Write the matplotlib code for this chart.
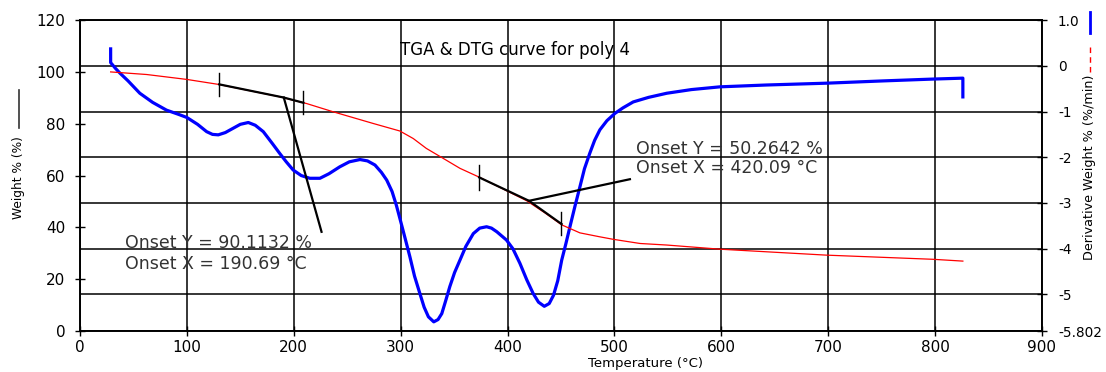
import matplotlib
matplotlib.use("Agg")
import matplotlib.pyplot as plt
from matplotlib.lines import Line2D

# DTG curve (right axis), derivative weight %/min
temp_dtg = [28.7, 28.7, 33, 37.4, 45, 56, 68, 81, 92, 100, 110, 118.5, 124, 129.4,
            136, 143, 150, 157.5, 164, 171.5, 180, 187, 193, 199.5, 207, 215, 224.5,
            233, 243, 252, 262, 269, 276, 282, 287, 292, 296, 300, 304.5, 308.7, 313,
            318, 322, 326, 331, 335, 338.5, 342, 346, 350.5, 355.5, 361, 368, 374,
            380.4, 385, 390, 399, 405, 411.6, 418, 424, 429, 434.4, 439, 443, 447,
            450.7, 454.5, 458.4, 463, 467.7, 472, 477, 481.5, 486.4, 493, 500.5, 508,
            517.6, 532, 549, 572, 598.7, 642, 698.5, 751.5, 798, 826, 826]
dtg = [0.37, 0.07, -0.05, -0.16, -0.33, -0.60, -0.80, -0.97, -1.06, -1.13, -1.28,
       -1.44, -1.50, -1.51, -1.46, -1.37, -1.28, -1.24, -1.30, -1.44, -1.70, -1.92,
       -2.10, -2.28, -2.40, -2.46, -2.46, -2.36, -2.21, -2.10, -2.05, -2.08, -2.17,
       -2.33, -2.50, -2.75, -3.05, -3.40, -3.80, -4.18, -4.60, -4.98, -5.28, -5.49,
       -5.60, -5.55, -5.42, -5.15, -4.83, -4.52, -4.25, -3.95, -3.67, -3.55, -3.52,
       -3.55, -3.63, -3.81, -4.00, -4.32, -4.68, -4.98, -5.17, -5.26, -5.20, -5.02,
       -4.70, -4.25, -3.90, -3.52, -3.08, -2.65, -2.25, -1.91, -1.63, -1.40, -1.20,
       -1.04, -0.92, -0.79, -0.69, -0.60, -0.52, -0.46, -0.42, -0.38, -0.33, -0.29,
       -0.27, -0.68]

# TGA curve (left axis), weight %
temp_tga = [28.7, 62.4, 100, 129.4, 156, 187, 212, 237, 274.4, 299.3, 311.8, 324,
            340, 355.5, 374, 395, 417.9, 435, 450.6, 467.7, 486, 499, 524, 549,
            598.7, 698.5, 798, 826]
weight = [100, 99.0, 97.1, 95.2, 93.0, 90.4, 87.8, 84.6, 80.1, 77.2, 74.3, 70.5,
          66.6, 62.8, 59.3, 55.0, 50.3, 45.6, 41.0, 37.9, 36.4, 35.4, 33.8, 33.2,
          31.6, 29.3, 27.7, 27.0]

# onset construction lines
onset1 = (190.69, 90.1132)
base1_t = [130.3, onset1[0], 209]
base1_w = [95.2, onset1[1], 88.1]
steep1_t = [onset1[0], 226]
steep1_w = [onset1[1], 38.3]
ticks1_t = [130.3, 209]
ticks1_w = [(90.6, 99.6), (83.7, 92.7)]

onset2 = (420.09, 50.2642)
base2_t = [373.5, onset2[0], 450.6]
base2_w = [59.3, onset2[1], 41.3]
steep2_t = [onset2[0], 514.5]
steep2_w = [onset2[1], 58.6]
ticks2_t = [373.5, 450]
ticks2_w = [(54.5, 63.9), (37.0, 46.0)]

x_ticks = list(range(0, 1000, 100))
left_ticks = list(range(0, 140, 20))
right_ticks = [1.0, 0, -1, -2, -3, -4, -5, -5.802]
right_labels = ['1.0', '0', '-1', '-2', '-3', '-4', '-5', '-5.802']

fig = plt.figure(figsize=(11.06, 3.72), dpi=100)
ax = fig.add_axes([0.0723, 0.110, 0.8698, 0.836])
ax2 = ax.twinx()

# grid + DTG on the lower axes, TGA on top
ax2.set_zorder(1)
ax.set_zorder(2)
ax.patch.set_visible(False)

ax2.plot(temp_dtg, dtg, color='#0000ff', lw=2.3, solid_joinstyle='round')
ax2.set_ylim(-5.802, 1.0)
ax2.set_yticks(right_ticks)
ax2.set_yticklabels(right_labels)
ax2.set_axisbelow(True)
ax2.xaxis.set_visible(True)
ax2.tick_params(axis='x', which='both', bottom=False, top=False,
                labelbottom=False, labeltop=False)
ax2.grid(True, color='black', lw=1.1)

ax.plot(temp_tga, weight, color='#ff0000', lw=0.9)
for ts, ws in [(base1_t, base1_w), (steep1_t, steep1_w),
               (base2_t, base2_w), (steep2_t, steep2_w)]:
    ax.plot(ts, ws, color='black', lw=1.6)
for t, (w0, w1) in zip(ticks1_t + ticks2_t, ticks1_w + ticks2_w):
    ax.plot([t, t], [w0, w1], color='black', lw=1.0)

fs_note = 12.5
ax.text(42, 34, 'Onset Y = %.4f %%' % onset1[1], fontsize=fs_note, va='center',
        color='#333333')
ax.text(42, 25.8, 'Onset X = %.2f °C' % onset1[0], fontsize=fs_note, va='center',
        color='#333333')
ax.text(520, 70.2, 'Onset Y = %.4f %%' % onset2[1], fontsize=fs_note, va='center',
        color='#333333')
ax.text(520, 62.9, 'Onset X = %.2f °C' % onset2[0], fontsize=fs_note, va='center',
        color='#333333')
ax.text(0.452, 0.904, 'TGA & DTG curve for poly 4', transform=ax.transAxes,
        ha='center', va='center', fontsize=12)

ax.set_xlim(0, 900)
ax.set_ylim(0, 120)
ax.set_xticks(x_ticks)
ax.set_yticks(left_ticks)
ax.set_xlabel('Temperature (°C)', fontsize=9.5)
ax.set_ylabel('Weight % (%)', fontsize=8.8)
ax2.set_ylabel('Derivative Weight % (%/min)', fontsize=9.2)
ax.xaxis.set_label_coords(0.5875, -0.082)
ax.yaxis.set_label_coords(-0.057, 0.494)
ax2.yaxis.set_label_coords(1.0426, 0.527)

for a in (ax, ax2):
    a.tick_params(direction='inout', length=7, width=1, labelsize=11, pad=3)
    for s in a.spines.values():
        s.set_linewidth(1.2)
ax.tick_params(axis='y', pad=7)
ax2.tick_params(axis='y', pad=8, labelsize=9.8)

# legend samples beside the axis labels
fig.add_artist(Line2D([0.0172, 0.0172], [0.656, 0.758], color='#333333', lw=1.2,
                      transform=fig.transFigure))
fig.add_artist(Line2D([0.9855, 0.9855], [0.911, 0.968], color='#0000ff', lw=2,
                      transform=fig.transFigure))
fig.add_artist(Line2D([0.9855, 0.9855], [0.806, 0.879], color='#ff0000', lw=1,
                      ls=(0, (4, 3)), transform=fig.transFigure))

fig.savefig('out.png', dpi=100)
